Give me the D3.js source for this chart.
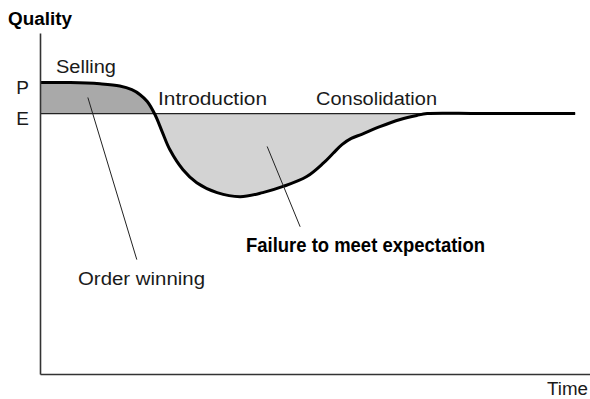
<!DOCTYPE html>
<html>
<head>
<meta charset="utf-8">
<script src="https://cdn.jsdelivr.net/npm/d3@7"></script>
<style>
  html, body { margin: 0; padding: 0; background: #fff; }
  svg { display: block; font-family: "Liberation Sans", Arial, sans-serif; }
</style>
</head>
<body>
<div class="container"></div>
<script>
// time runs 0..100, quality is measured against expectation E = 0 and perception P = 1
const times = [0, 5.5, 10.9, 14.5, 16.7, 18.2, 19.5, 20.9, 22.2, 23.6, 26.0, 28.5, 32.2, 36.4,
    40.5, 44.2, 48.5, 51.5, 53.3, 54.9, 56.6, 58.6, 61.8, 65.5, 68.5, 70.4, 80, 97.3];
const quality = [1.0, 1.0, 0.96, 0.89, 0.77, 0.61, 0.39, -0.03, -0.58, -1.16, -1.81, -2.23, -2.55, -2.68,
    -2.55, -2.35, -2.03, -1.6, -1.28, -1.0, -0.8, -0.66, -0.42, -0.19, -0.06, 0, 0, 0];
const levels = [1, 0];
const levelLabels = ["P", "E"];
const leaders = [
    [[8.7, 0.52], [17.6, -4.71]],
    [[41.3, -1.06], [47.3, -3.65]]
];

const w = 590;
const h = 399;

const xScale = d3.scaleLinear().domain([0, 100]).range([40, 590]);
const yScale = d3.scaleLinear().domain([-8.4, 2.6]).range([374, 33]);

const data = times.map((t, i) => [t, quality[i]]);

const svg = d3.select(".container")
    .append("svg")
    .attr("width", w)
    .attr("height", h);

const defs = svg.append("defs");
defs.append("clipPath").attr("id", "above")
    .append("rect")
    .attr("x", 0).attr("y", 0)
    .attr("width", w).attr("height", yScale(0));
defs.append("clipPath").attr("id", "below")
    .append("rect")
    .attr("x", 0).attr("y", yScale(0))
    .attr("width", w).attr("height", h - yScale(0));

const area = d3.area()
    .x((d) => xScale(d[0]))
    .y0(yScale(0))
    .y1((d) => yScale(d[1]))
    .curve(d3.curveCatmullRom);

svg.append("path")
    .datum(data)
    .attr("clip-path", "url(#above)")
    .attr("fill", "#a9a9a9")
    .attr("d", area);

svg.append("path")
    .datum(data)
    .attr("clip-path", "url(#below)")
    .attr("fill", "#d3d3d3")
    .attr("d", area);

// expectation line
svg.append("line")
    .attr("x1", xScale(0))
    .attr("x2", xScale(97.3))
    .attr("y1", yScale(0))
    .attr("y2", yScale(0))
    .attr("stroke", "#222")
    .attr("stroke-width", 1.4);

const line = d3.line()
    .x((d) => xScale(d[0]))
    .y((d) => yScale(d[1]))
    .curve(d3.curveCatmullRom);

svg.append("path")
    .datum(data)
    .attr("fill", "none")
    .attr("stroke", "#000")
    .attr("stroke-width", 3)
    .attr("stroke-linejoin", "round")
    .attr("d", line);

svg.selectAll(".leader")
    .data(leaders)
    .enter()
    .append("line")
    .attr("class", "leader")
    .attr("x1", (d) => xScale(d[0][0]))
    .attr("y1", (d) => yScale(d[0][1]))
    .attr("x2", (d) => xScale(d[1][0]))
    .attr("y2", (d) => yScale(d[1][1]))
    .attr("stroke", "#222")
    .attr("stroke-width", 1);

// axes
const yAxis = d3.axisLeft(yScale)
    .tickValues(levels)
    .tickFormat((d, i) => levelLabels[i])
    .tickSize(0)
    .tickSizeOuter(0)
    .tickPadding(11);
const gy = svg.append("g")
    .attr("id", "y-axis")
    .attr("transform", `translate(${xScale(0)}, 0)`)
    .call(yAxis);

const xAxis = d3.axisBottom(xScale).tickValues([]).tickSizeOuter(0);
const gx = svg.append("g")
    .attr("id", "x-axis")
    .attr("transform", `translate(0, ${yScale(-8.4)})`)
    .call(xAxis);

svg.selectAll("#x-axis .domain, #y-axis .domain")
    .attr("stroke", "#333")
    .attr("stroke-width", 1.6);

gy.selectAll("text")
    .attr("font-family", "Liberation Sans, Arial, sans-serif")
    .attr("font-size", 19)
    .attr("fill", "#1a1a1a")
    .attr("dy", "0.55em");

// labels
const labels = [
    { text: "Quality", x: 8, y: 25, len: 64, size: 18, bold: true },
    { text: "Selling", x: 56, y: 73, len: 60, size: 18 },
    { text: "Introduction", x: 158, y: 105, len: 109, size: 18 },
    { text: "Consolidation", x: 316, y: 105, len: 121, size: 18 },
    { text: "Failure to meet expectation", x: 246, y: 252, len: 239, size: 20, bold: true },
    { text: "Order winning", x: 78, y: 285, len: 127, size: 18 },
    { text: "Time", x: 547, y: 395, len: 41, size: 18 }
];

svg.selectAll(".label")
    .data(labels)
    .enter()
    .append("text")
    .attr("class", "label")
    .attr("x", (d) => d.x)
    .attr("y", (d) => d.y)
    .attr("font-size", (d) => d.size)
    .attr("font-weight", (d) => (d.bold ? "bold" : "normal"))
    .attr("fill", (d) => (d.bold ? "#000" : "#1a1a1a"))
    .attr("textLength", (d) => d.len)
    .attr("lengthAdjust", "spacingAndGlyphs")
    .text((d) => d.text);
</script>
</body>
</html>
